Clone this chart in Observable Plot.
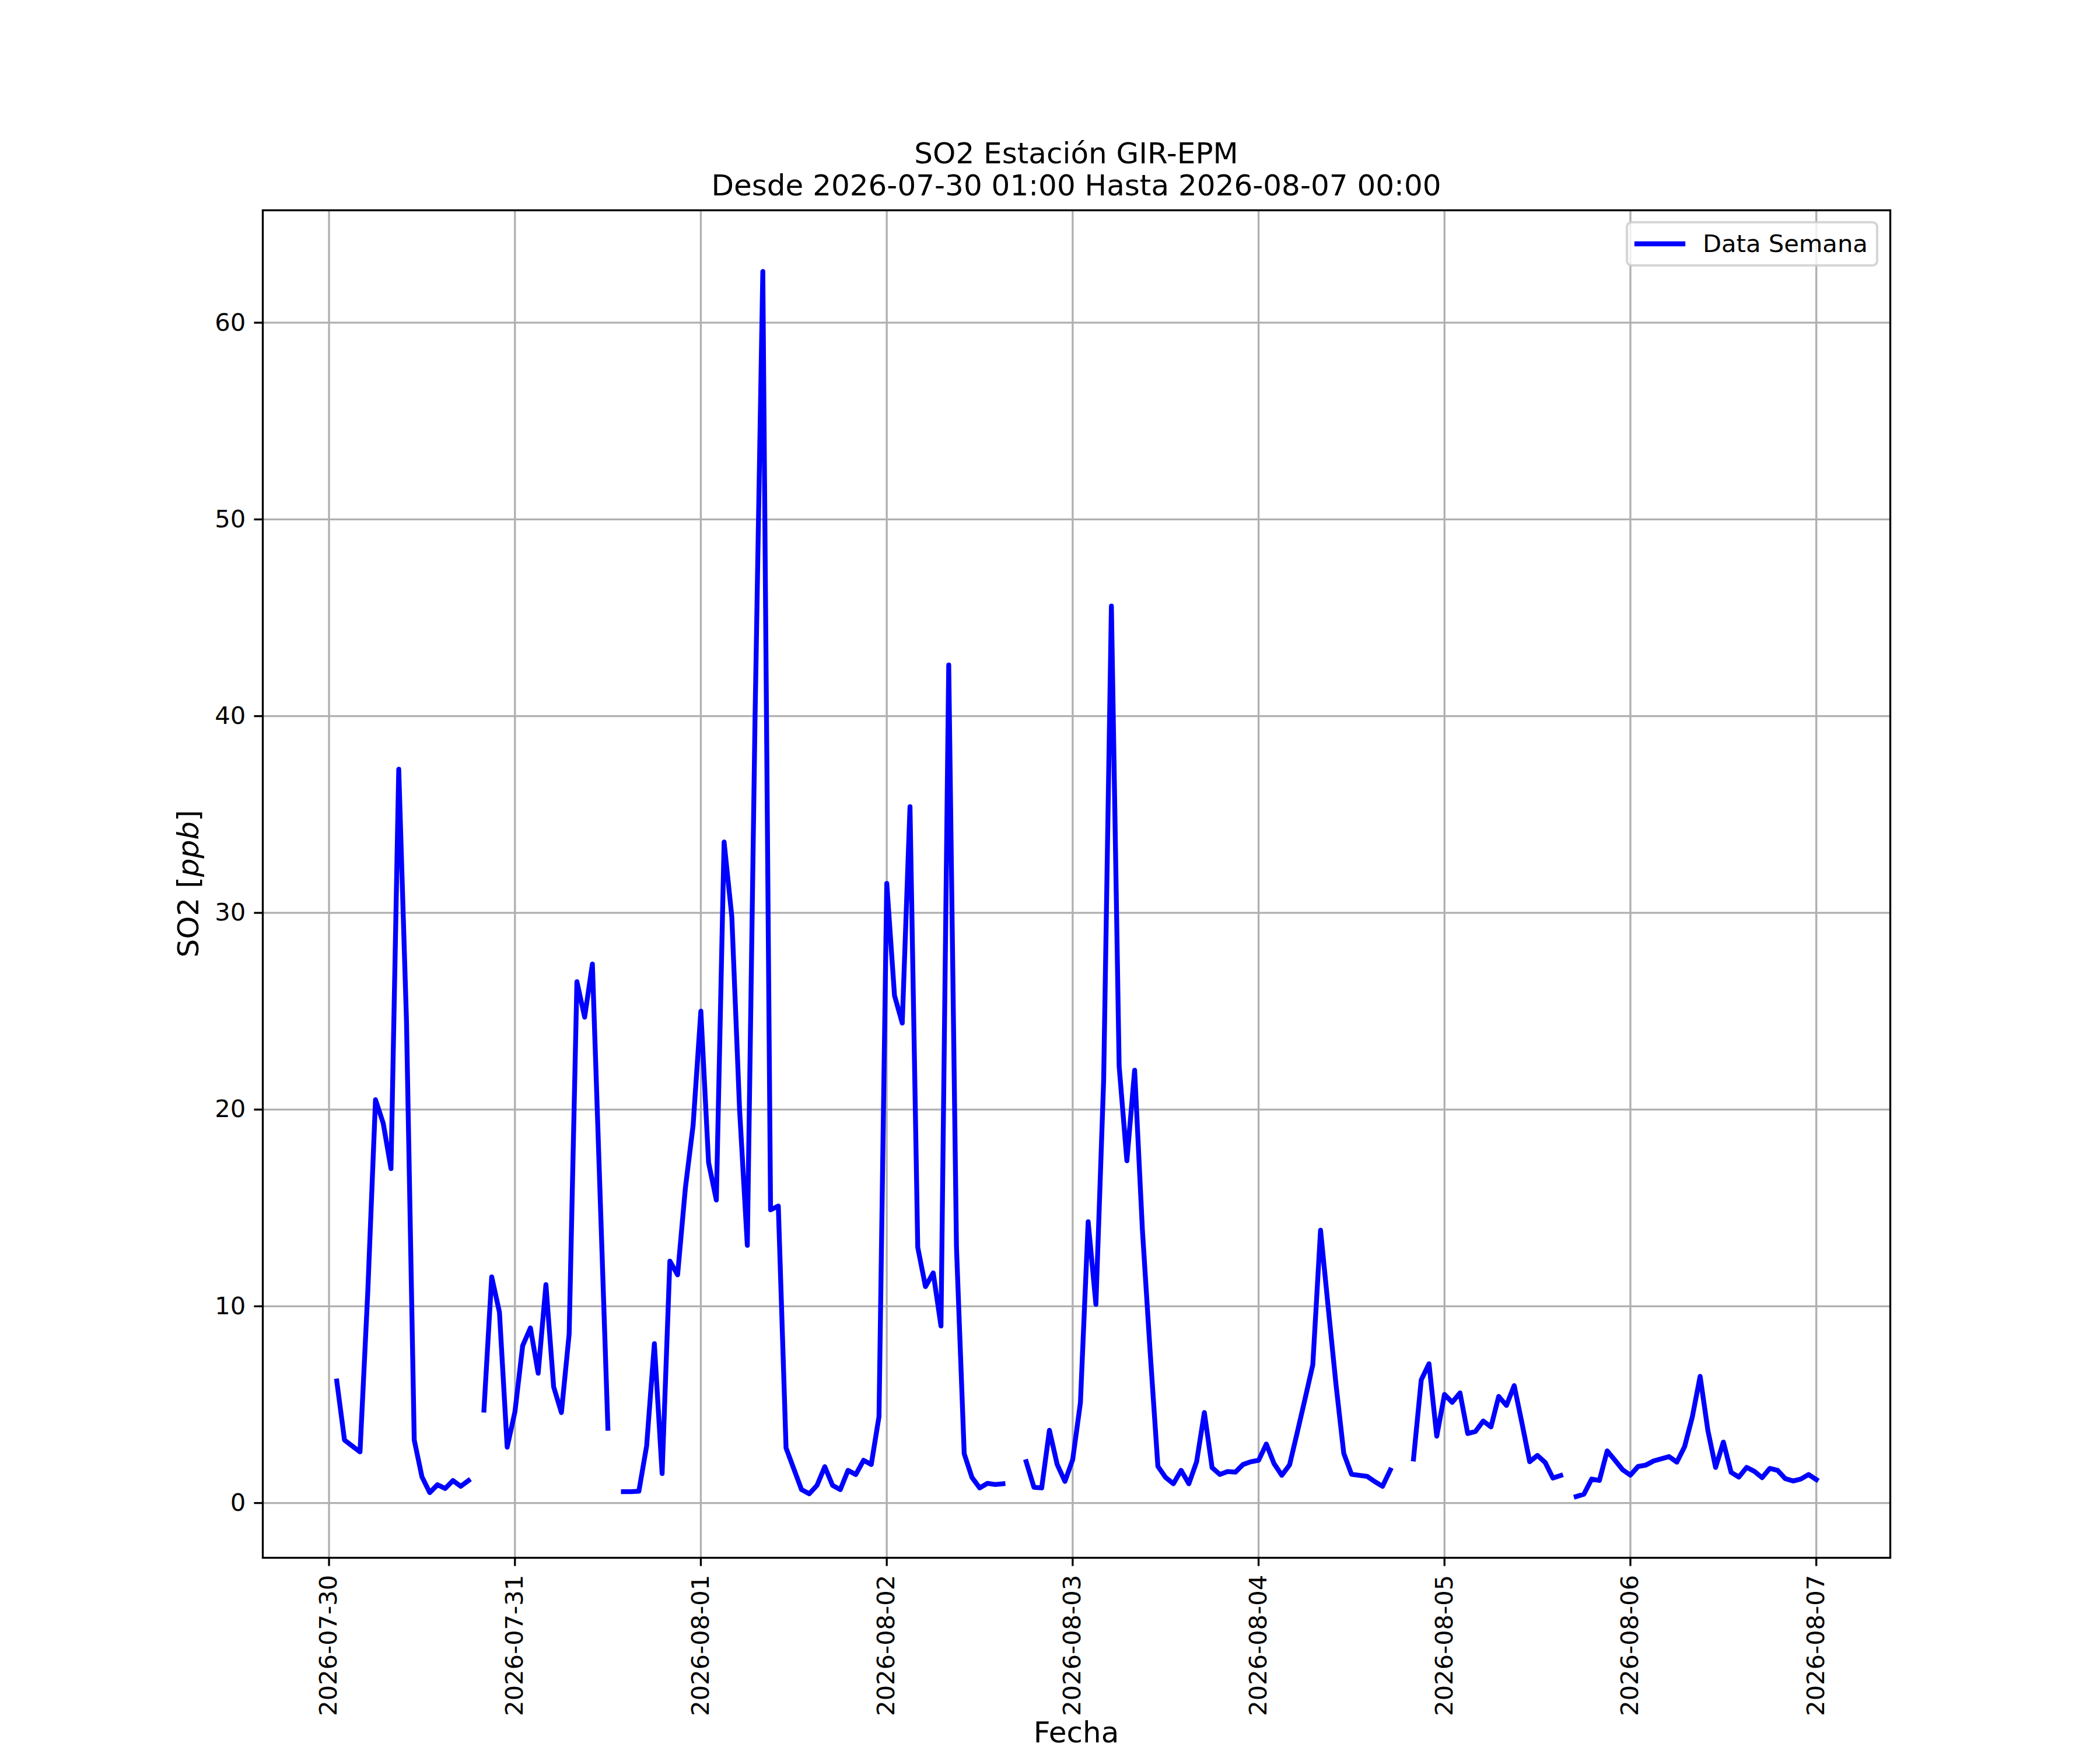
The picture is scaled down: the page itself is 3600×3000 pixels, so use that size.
<!DOCTYPE html>
<html>
<head>
<meta charset="utf-8">
<script src="https://cdn.jsdelivr.net/npm/d3@7"></script>
<script src="https://cdn.jsdelivr.net/npm/@observablehq/plot@0.6"></script>
<style>
  html, body { margin: 0; padding: 0; background: white; }
  #chart { width: 3600px; height: 3000px; position: relative; }
</style>
</head>
<body>
<div id="chart"></div>
<script>
// ---- Data: hourly SO2 (ppb), null = missing ----
const startLabel = "2026-07-30T01:00:00Z";
const endLabel = "2026-08-07T00:00:00Z";
// each array: 24 hourly values
const day1 = [6.2,3.2,2.9,2.6,10.7,20.5,19.3,17.0,37.3,24.5,3.2,1.33,0.53,0.93,0.74,1.14,0.85,1.14,null,4.72,11.5,9.7,2.84,4.64];
const day2 = [8.0,8.9,6.6,11.1,5.9,4.6,8.6,26.5,24.7,27.4,15.6,3.8,null,0.58,0.58,0.6,2.9,8.1,1.5,12.3,11.6,16.0,19.2,25.0];
const day3 = [17.3,15.4,33.6,29.8,20.0,13.1,40.0,62.6,14.9,15.1,2.8,1.74,0.68,0.47,0.9,1.85,0.9,0.68,1.66,1.45,2.17,1.96,4.4,31.5];
const day4 = [25.8,24.4,35.4,13.0,11.0,11.7,9.0,42.6,13.0,2.5,1.3,0.77,1.0,0.94,0.98,null,null,2.1,0.8,0.77,3.7,1.96,1.1,2.2];
const day5 = [5.1,14.3,10.1,21.5,45.6,22.2,17.4,22.0,13.9,7.7,1.87,1.3,0.98,1.66,0.98,2.1,4.6,1.8,1.45,1.6,1.57,1.96,2.1,2.17];
const day6 = [3.0,2.0,1.41,1.94,3.6,5.3,7.03,13.87,9.9,6.0,2.52,1.46,1.41,1.36,1.09,0.85,1.68,null,null,2.24,6.26,7.08,3.4,5.52];
const day7 = [5.12,5.6,3.53,3.64,4.17,3.87,5.42,4.96,5.97,4.06,2.1,2.42,2.06,1.27,1.4,null,0.33,0.45,1.22,1.15,2.65,2.18,1.69,1.42];
const day8 = [1.86,1.93,2.14,2.25,2.36,2.08,2.87,4.39,6.44,3.69,1.81,3.1,1.56,1.32,1.81,1.61,1.29,1.76,1.66,1.24,1.12,1.22,1.45,1.19];

const xTickLabels = ["2026-07-30","2026-07-31","2026-08-01","2026-08-02","2026-08-03","2026-08-04","2026-08-05","2026-08-06","2026-08-07"];
const yTicks = [0,10,20,30,40,50,60];

const titleLine1 = "SO2 Estación GIR-EPM";
const titleLine2 = "Desde 2026-07-30 01:00 Hasta 2026-08-07 00:00";
const xLabel = "Fecha";
const legendLabel = "Data Semana";

// ---- Build table ----
const values = [].concat(day1, day2, day3, day4, day5, day6, day7, day8);
const t0 = new Date(startLabel).getTime();
const data = values.map((v, i) => ({date: new Date(t0 + i * 3600e3), value: v}));

const t1 = new Date(endLabel).getTime();
const xPad = (t1 - t0) * 0.05;
const xDomain = [new Date(t0 - xPad), new Date(t1 + xPad)];
const defined = values.filter(v => v != null);
const vmin = d3.min(defined), vmax = d3.max(defined);
const yPad = (vmax - vmin) * 0.05;
const yDomain = [vmin - yPad, vmax + yPad];
const xTicks = xTickLabels.map(s => new Date(s + "T00:00:00Z"));

const PT = 300 / 72; // px per point at 300 dpi
const lw = 0.8 * PT;

const plot = Plot.plot({
  width: 3600,
  height: 3000,
  marginTop: 360,
  marginRight: 360,
  marginBottom: 330,
  marginLeft: 450,
  style: {fontFamily: "DejaVu Sans", fontSize: (10 * PT) + "px", color: "black", background: "white", overflow: "visible"},
  x: {type: "utc", domain: xDomain},
  y: {domain: yDomain},
  marks: [
    Plot.gridX({ticks: xTicks, stroke: "#b0b0b0", strokeOpacity: 1, strokeWidth: lw}),
    Plot.gridY({ticks: yTicks, stroke: "#b0b0b0", strokeOpacity: 1, strokeWidth: lw}),
    Plot.line(data, {x: "date", y: "value", stroke: "#0000ff", strokeWidth: 2 * PT, strokeLinecap: "square", strokeLinejoin: "round"}),
    Plot.frame({stroke: "black", strokeWidth: lw}),
    Plot.axisX({ticks: xTicks, tickSize: 3.5 * PT, tickPadding: 3.5 * PT, tickRotate: -90,
      tickFormat: d3.utcFormat("%Y-%m-%d"), fontSize: 10 * PT, strokeWidth: lw, label: null}),
    Plot.axisY({ticks: yTicks, tickSize: 3.5 * PT, tickPadding: 3.5 * PT, fontSize: 10 * PT,
      strokeWidth: lw, label: null, tickFormat: d => String(d)})
  ]
});

document.getElementById("chart").appendChild(plot);

// ---- Decorations: title, axis labels, legend ----
const svg = d3.select(plot);
const cx = (450 + 3240) / 2;
const fTitle = 12 * PT;

svg.append("text").attr("x", cx).attr("y", 280).attr("text-anchor", "middle")
  .attr("font-family", "DejaVu Sans").attr("font-size", fTitle).attr("fill", "black").text(titleLine1);
svg.append("text").attr("x", cx).attr("y", 335).attr("text-anchor", "middle")
  .attr("font-family", "DejaVu Sans").attr("font-size", fTitle).attr("fill", "black").text(titleLine2);

svg.append("text").attr("x", cx).attr("y", 2987).attr("text-anchor", "middle")
  .attr("font-family", "DejaVu Sans").attr("font-size", fTitle).attr("fill", "black").text(xLabel);

const yl = svg.append("text").attr("transform", `translate(340,1515) rotate(-90)`).attr("text-anchor", "middle")
  .attr("font-family", "DejaVu Sans").attr("font-size", fTitle).attr("fill", "black");
yl.append("tspan").text("SO2 [");
yl.append("tspan").attr("font-style", "italic").text("ppb");
yl.append("tspan").text("]");

const lg = svg.append("g");
lg.append("rect").attr("x", 2789).attr("y", 381).attr("width", 429).attr("height", 74)
  .attr("rx", 8).attr("fill", "white").attr("fill-opacity", 0.8)
  .attr("stroke", "#cccccc").attr("stroke-opacity", 0.8).attr("stroke-width", 1 * PT);
lg.append("line").attr("x1", 2806).attr("x2", 2885).attr("y1", 418).attr("y2", 418)
  .attr("stroke", "#0000ff").attr("stroke-width", 2 * PT).attr("stroke-linecap", "square");
lg.append("text").attr("x", 2919).attr("y", 432).attr("text-anchor", "start").attr("font-family", "DejaVu Sans")
  .attr("font-size", 10 * PT).attr("fill", "black").text(legendLabel);
</script>
</body>
</html>
